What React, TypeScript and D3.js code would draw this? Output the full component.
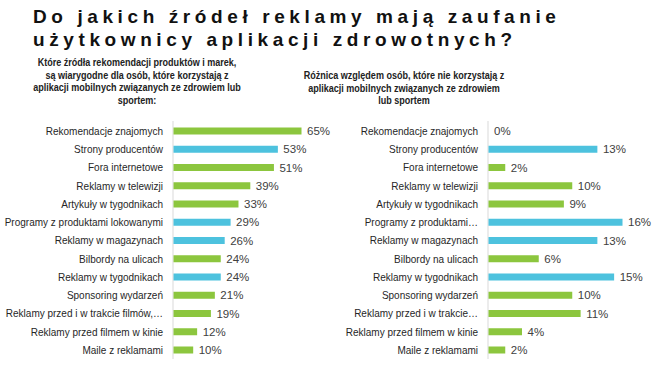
import React from 'react'
import * as d3 from 'd3'

const categories = [
  'Rekomendacje znajomych',
  'Strony producentów',
  'Fora internetowe',
  'Reklamy w telewizji',
  'Artykuły w tygodnikach',
  'Programy z produktami lokowanymi',
  'Reklamy w magazynach',
  'Bilbordy na ulicach',
  'Reklamy w tygodnikach',
  'Sponsoring wydarzeń',
  'Reklamy przed i w trakcie filmów,…',
  'Reklamy przed filmem w kinie',
  'Maile z reklamami'
]

// etykiety w prawym wykresie są skracane
const categoriesRight = [
  'Rekomendacje znajomych',
  'Strony producentów',
  'Fora internetowe',
  'Reklamy w telewizji',
  'Artykuły w tygodnikach',
  'Programy z produktami…',
  'Reklamy w magazynach',
  'Bilbordy na ulicach',
  'Reklamy w tygodnikach',
  'Sponsoring wydarzeń',
  'Reklamy przed i w trakcie…',
  'Reklamy przed filmem w kinie',
  'Maile z reklamami'
]

const trustValues = [65, 53, 51, 39, 33, 29, 26, 24, 24, 21, 19, 12, 10]
const diffValues = [0, 13, 2, 10, 9, 16, 13, 6, 15, 10, 11, 4, 2]
// true = źródło wyróżnione na niebiesko
const highlighted = [false, true, false, false, false, true, true, false, true, false, false, false, false]

const titleLines = ['Do jakich źródeł reklamy mają zaufanie', 'użytkownicy aplikacji zdrowotnych?']
const leftSubtitle = [
  'Które źródła rekomendacji produktów i marek,',
  'są wiarygodne dla osób, które korzystają z',
  'aplikacji mobilnych związanych ze zdrowiem lub',
  'sportem:'
]
const rightSubtitle = [
  'Różnica względem osób, które nie korzystają z',
  'aplikacji mobilnych związanych ze zdrowiem',
  'lub sportem'
]

const GREEN = '#8cc63e'
const BLUE = '#4dc2de'
const FONT = '"Liberation Sans", Arial, sans-serif'

const W = 655
const H = 366

const y = d3.scalePoint<number>()
  .domain(d3.range(categories.length))
  .range([131, 350])

const BAR_H = 7

interface PanelProps {
  labels: string[]
  values: number[]
  x: d3.ScaleLinear<number, number>
}

const Panel: React.FC<PanelProps> = ({ labels, values, x }) => {
  const x0 = x(0)
  return (
    <g>
      <line x1={x0} x2={x0} y1={121} y2={359} stroke="#d9d9d9" strokeWidth={1} />
      {values.map((v, i) => {
        const cy = y(i) || 0
        return (
          <g key={i}>
            <g transform={`translate(${x0 - 10},${cy}) scale(0.91,1)`}>
              <text
                x={0}
                y={0}
                dy="0.35em"
                textAnchor="end"
                fontSize={11}
                fill="#262626"
              >
                {labels[i]}
              </text>
            </g>
            <rect
              x={x0 + 0.5}
              y={cy - BAR_H / 2}
              width={Math.max(0, x(v) - x0)}
              height={BAR_H}
              fill={highlighted[i] ? BLUE : GREEN}
            />
            <text
              x={x(v) + 6}
              y={cy}
              dy="0.35em"
              fontSize={11.5}
              fill="#404040"
            >
              {v}%
            </text>
          </g>
        )
      })}
    </g>
  )
}

// podtytuł: wąski krój udawany przez skalowanie w poziomie
const Subtitle: React.FC<{ lines: string[]; cx: number; top: number }> = ({ lines, cx, top }) => (
  <g transform={`translate(${cx},${top}) scale(0.8,1)`}>
    {lines.map((t, i) => (
      <text
        key={i}
        x={0}
        y={i * 12.7}
        dy="0.35em"
        textAnchor="middle"
        fontSize={11.3}
        fontWeight="bold"
        fill="#222"
      >
        {t}
      </text>
    ))}
  </g>
)

const App: React.FC = () => {
  const xLeft = d3.scaleLinear().domain([0, 65]).range([173, 301])
  const xRight = d3.scaleLinear().domain([0, 16]).range([488, 622])

  return (
    <div style={{ position: 'absolute', left: 0, top: 0 }}>
      <svg width={W} height={H} style={{ display: 'block', background: '#fff', fontFamily: FONT }}>
        {titleLines.map((t, i) => (
          <text
            key={i}
            x={33}
            y={23 + i * 23}
            fontSize={19}
            fontWeight="bold"
            letterSpacing={4.6}
            fill="#111"
          >
            {t}
          </text>
        ))}
        <Subtitle lines={leftSubtitle} cx={137} top={62} />
        <Subtitle lines={rightSubtitle} cx={404} top={75} />
        <Panel labels={categories} values={trustValues} x={xLeft} />
        <Panel labels={categoriesRight} values={diffValues} x={xRight} />
      </svg>
    </div>
  )
}

export default App
